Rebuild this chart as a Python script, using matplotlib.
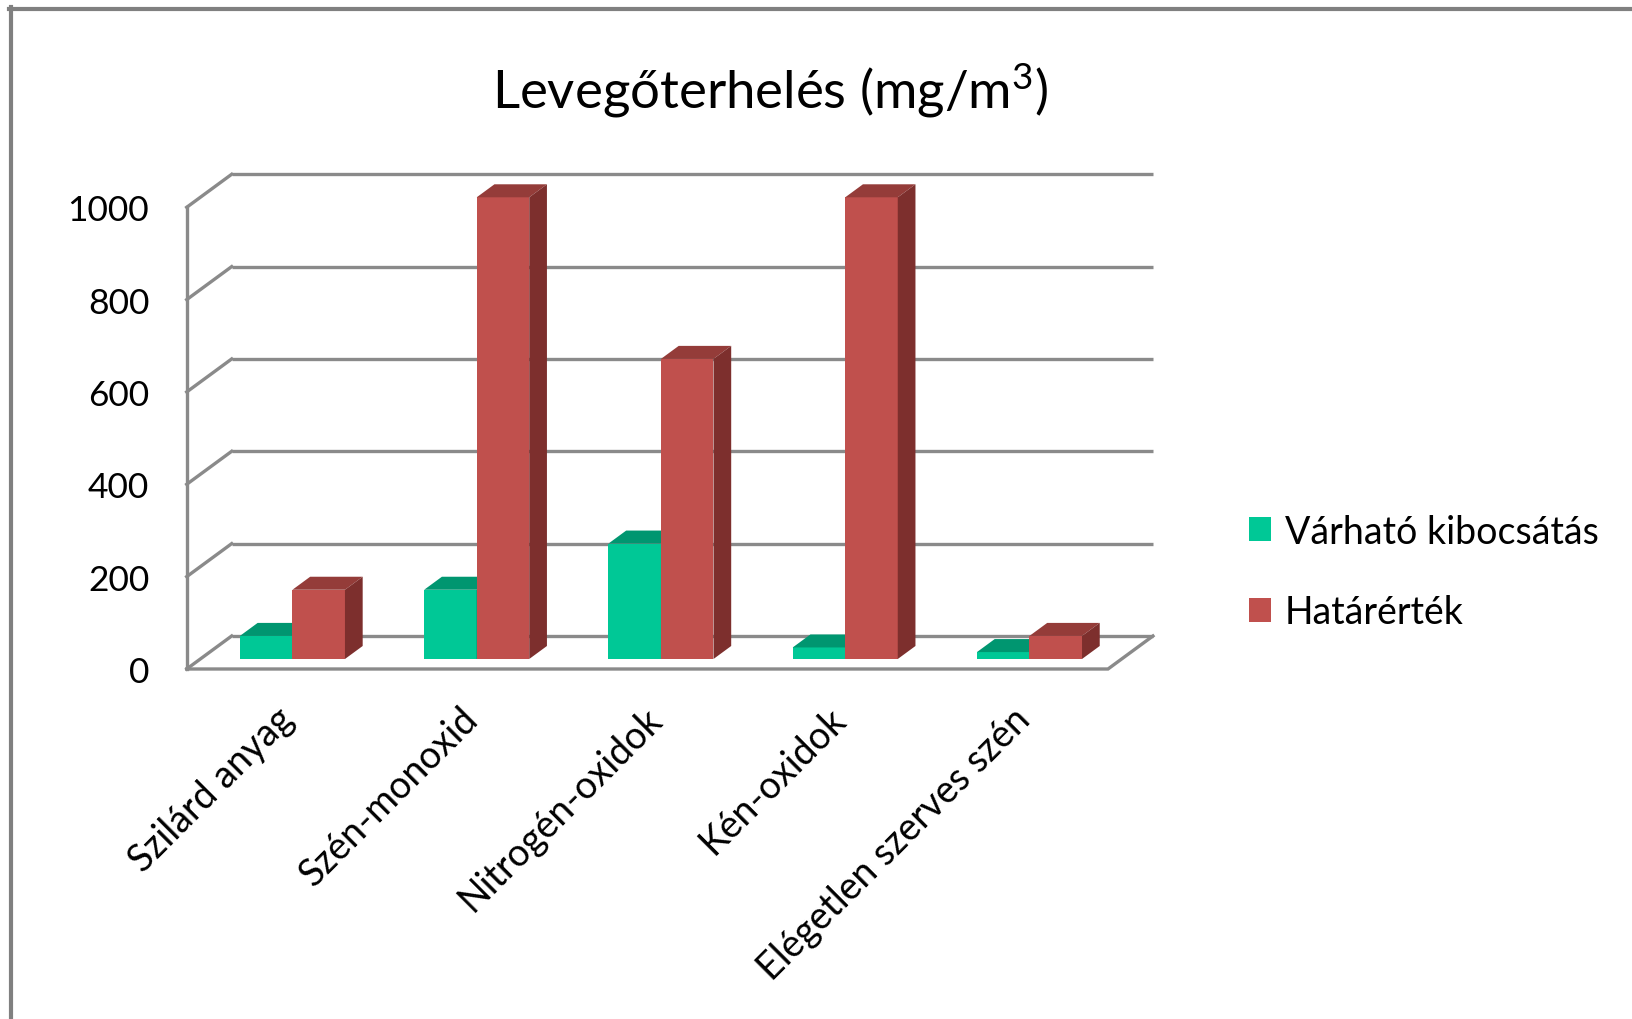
import matplotlib
matplotlib.use("Agg")
import matplotlib.pyplot as plt
from matplotlib.patches import Polygon, Patch
from matplotlib.lines import Line2D

plt.rcParams["font.family"] = ["Lato", "DejaVu Sans"]
plt.rcParams["mathtext.fontset"] = "custom"
plt.rcParams["mathtext.rm"] = "Lato"
plt.rcParams["mathtext.it"] = "Lato"

# ---- data ----
categories = ["Szilárd anyag", "Szén-monoxid", "Nitrogén-oxidok",
              "Kén-oxidok", "Elégetlen szerves szén"]
series_names = ["Várható kibocsátás", "Határérték"]
expected = [50, 150, 250, 25, 15]
limit = [150, 1000, 650, 1000, 50]
y_ticks = [0, 200, 400, 600, 800, 1000]
title = "Levegőterhelés (mg/m$\\mathregular{^3}$)"

# ---- styling ----
W, H = 1633, 1020
face_cols = ["#00C896", "#C0504D"]
top_cols = ["#009670", "#943C39"]
side_cols = ["#006E52", "#7D2F2D"]
grid_col = "#8A8A8A"
grid_lw = 2.4

fig = plt.figure(figsize=(W / 100, H / 100), dpi=100)
fig.patch.set_facecolor("white")

# front plane of the plot box, in figure pixels
left_px, right_px, bot_px, top_px = 186.7, 1108.0, 670.0, 208.3
ax = fig.add_axes([left_px / W, 1 - bot_px / H,
                   (right_px - left_px) / W, (bot_px - top_px) / H])
n = len(categories)
ax.set_xlim(0, n)
ax.set_ylim(0, 1000)
for s in ax.spines.values():
    s.set_visible(False)
ax.set_xticks([])
ax.set_yticks(y_ticks)
ax.set_yticklabels([str(t) for t in y_ticks], fontsize=25.5, color="#000000")
ax.tick_params(axis="y", length=0, pad=27)
ax.patch.set_alpha(0)

# depth of the box (x in category units, y in value units)
DX, DY = 0.244, 71.5
f0, f1 = 10 / 33, 23 / 33          # bar depth band inside the box
bw = 0.285                          # bar width

# back wall gridlines and left wall lines
for v in y_ticks:
    ax.plot([DX, n + DX], [v + DY, v + DY], color=grid_col, lw=grid_lw,
            clip_on=False, zorder=1, solid_capstyle="butt")
    ax.plot([0, DX], [v, v + DY], color=grid_col, lw=grid_lw,
            clip_on=False, zorder=1)
# front left edge and floor
ax.plot([0, 0], [0, y_ticks[-1]], color=grid_col, lw=grid_lw, clip_on=False, zorder=1)
ax.plot([0, n, n + DX], [0, 0, DY], color=grid_col, lw=grid_lw, clip_on=False,
        zorder=1, solid_joinstyle="miter")

# 3D bars
ox, oy = f0 * DX, f0 * DY
ddx, ddy = (f1 - f0) * DX, (f1 - f0) * DY
for i in range(n):
    for k, vals in enumerate([expected, limit]):
        v = vals[i]
        x0 = i + 0.5 - bw + k * bw + ox
        x1 = x0 + bw
        z = 3 + k + i * 2
        ax.bar(x0, v, width=bw, bottom=oy, align="edge", color=face_cols[k],
               linewidth=0, clip_on=False, zorder=z)
        top = Polygon([(x0, v + oy), (x1, v + oy), (x1 + ddx, v + oy + ddy),
                       (x0 + ddx, v + oy + ddy)], closed=True,
                      facecolor=top_cols[k], edgecolor="none", clip_on=False, zorder=z)
        side = Polygon([(x1, oy), (x1 + ddx, oy + ddy), (x1 + ddx, v + oy + ddy),
                        (x1, v + oy)], closed=True,
                       facecolor=side_cols[k], edgecolor="none", clip_on=False, zorder=z)
        ax.add_patch(top)
        ax.add_patch(side)

# category labels, rotated
for i, name in enumerate(categories):
    ax.text(i + 0.5 + ox - 0.025, -95, name, rotation=45, rotation_mode="anchor",
            ha="right", va="center", fontsize=27, color="#000000", clip_on=False)

# title
fig.text(770 / W, 1 - 109 / H, title, ha="center", va="baseline", fontsize=38,
         color="#000000")

# legend
handles = [Patch(facecolor=face_cols[k], edgecolor="none") for k in range(2)]
fig.legend(handles, series_names, loc="center left",
           bbox_to_anchor=(1234 / W, 1 - 573 / H), frameon=False, fontsize=27,
           handlelength=0.6, handleheight=0.6, handletextpad=0.35,
           labelspacing=1.2, borderaxespad=0)

# outer frame
fig.add_artist(Line2D([11 / W, 11 / W], [1 - 8 / H, 0], transform=fig.transFigure,
                      color="#808080", lw=3))
fig.add_artist(Line2D([9 / W, 1], [1 - 10 / H, 1 - 10 / H], transform=fig.transFigure,
                      color="#808080", lw=3))

fig.savefig("out.png", dpi=100, facecolor="white")
